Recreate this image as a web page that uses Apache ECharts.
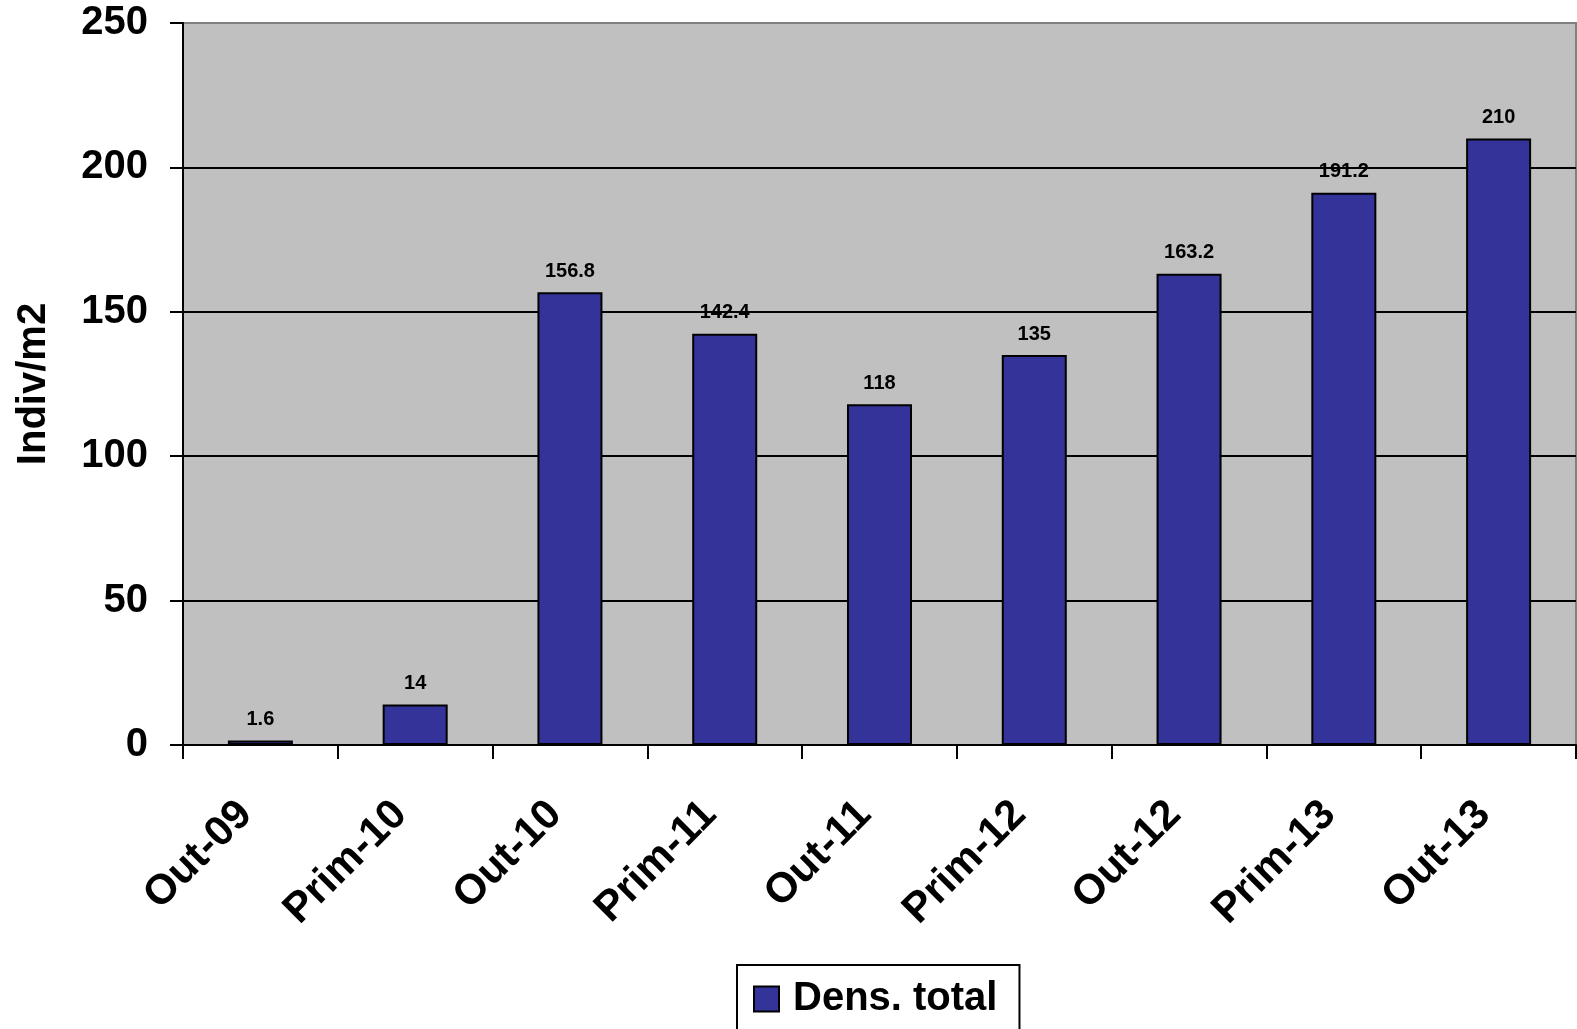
<!DOCTYPE html>
<html>
<head>
<meta charset="utf-8">
<title>Dens. total</title>
<script src="https://cdn.jsdelivr.net/npm/echarts@6/dist/echarts.min.js"></script>
<style>
  html, body { margin: 0; padding: 0; background: #ffffff; }
  #chart { width: 1577px; height: 1029px; }
</style>
</head>
<body>
<div id="chart"></div>
<script>
// Sampling campaigns (Out = autumn, Prim = spring)
const categories = ['Out-09', 'Prim-10', 'Out-10', 'Prim-11', 'Out-11', 'Prim-12', 'Out-12', 'Prim-13', 'Out-13'];
// Total density, individuals per m2
const densTotal = [1.6, 14, 156.8, 142.4, 118, 135, 163.2, 191.2, 210];
const seriesName = 'Dens. total';
const yAxisName = 'Indiv/m2';
const yMin = 0;
const yMax = 250;
const yStep = 50;

const FONT = '"Liberation Sans", Arial, sans-serif';

const chart = echarts.init(document.getElementById('chart'), null, { renderer: 'canvas' });

chart.setOption({
  animation: false,
  backgroundColor: '#ffffff',
  grid: {
    left: 183,
    right: 1,
    top: 23,
    bottom: 284,
    containLabel: false,
    outerBoundsMode: 'none',
    show: true,
    backgroundColor: '#C0C0C0',
    borderColor: '#808080',
    borderWidth: 2
  },
  legend: {
    data: [seriesName],
    left: 737,
    top: 965,
    padding: [14, 22, 20, 16],
    backgroundColor: '#ffffff',
    borderColor: '#000000',
    borderWidth: 2,
    borderRadius: 0,
    itemWidth: 25,
    itemHeight: 25,
    icon: 'rect',
    textStyle: {
      fontFamily: FONT,
      fontWeight: 'bold',
      fontSize: 40,
      color: '#000000',
      padding: [0, 0, 0, 9]
    }
  },
  xAxis: {
    type: 'category',
    data: categories,
    boundaryGap: true,
    axisLine: { lineStyle: { color: '#000000', width: 2 } },
    axisTick: { show: true, alignWithLabel: false, length: 14, lineStyle: { color: '#000000', width: 2 } },
    axisLabel: {
      interval: 0,
      rotate: 45,
      margin: 78,
      verticalAlign: 'bottom',
      fontFamily: FONT,
      fontWeight: 'bold',
      fontSize: 42,
      color: '#000000'
    },
    splitLine: { show: false }
  },
  yAxis: {
    type: 'value',
    min: yMin,
    max: yMax,
    interval: yStep,
    name: yAxisName,
    nameLocation: 'middle',
    nameGap: 129,
    nameTextStyle: {
      fontFamily: FONT,
      fontWeight: 'bold',
      fontSize: 40,
      color: '#000000'
    },
    axisLine: { show: true, lineStyle: { color: '#000000', width: 2 } },
    axisTick: { show: true, length: 13, lineStyle: { color: '#000000', width: 2 } },
    axisLabel: {
      margin: 35,
      fontFamily: FONT,
      fontWeight: 'bold',
      fontSize: 40,
      color: '#000000'
    },
    splitLine: {
      show: true,
      lineStyle: {
        color: ['#000000', '#000000', '#000000', '#000000', '#000000', '#808080'],
        width: 2
      }
    }
  },
  series: [{
    name: seriesName,
    type: 'bar',
    data: densTotal,
    barWidth: '42%',
    itemStyle: {
      color: '#333399',
      borderColor: '#000000',
      borderWidth: 2
    },
    label: {
      show: true,
      position: 'top',
      distance: 11,
      fontFamily: FONT,
      fontWeight: 'bold',
      fontSize: 20,
      color: '#000000'
    }
  }]
});
</script>
</body>
</html>
